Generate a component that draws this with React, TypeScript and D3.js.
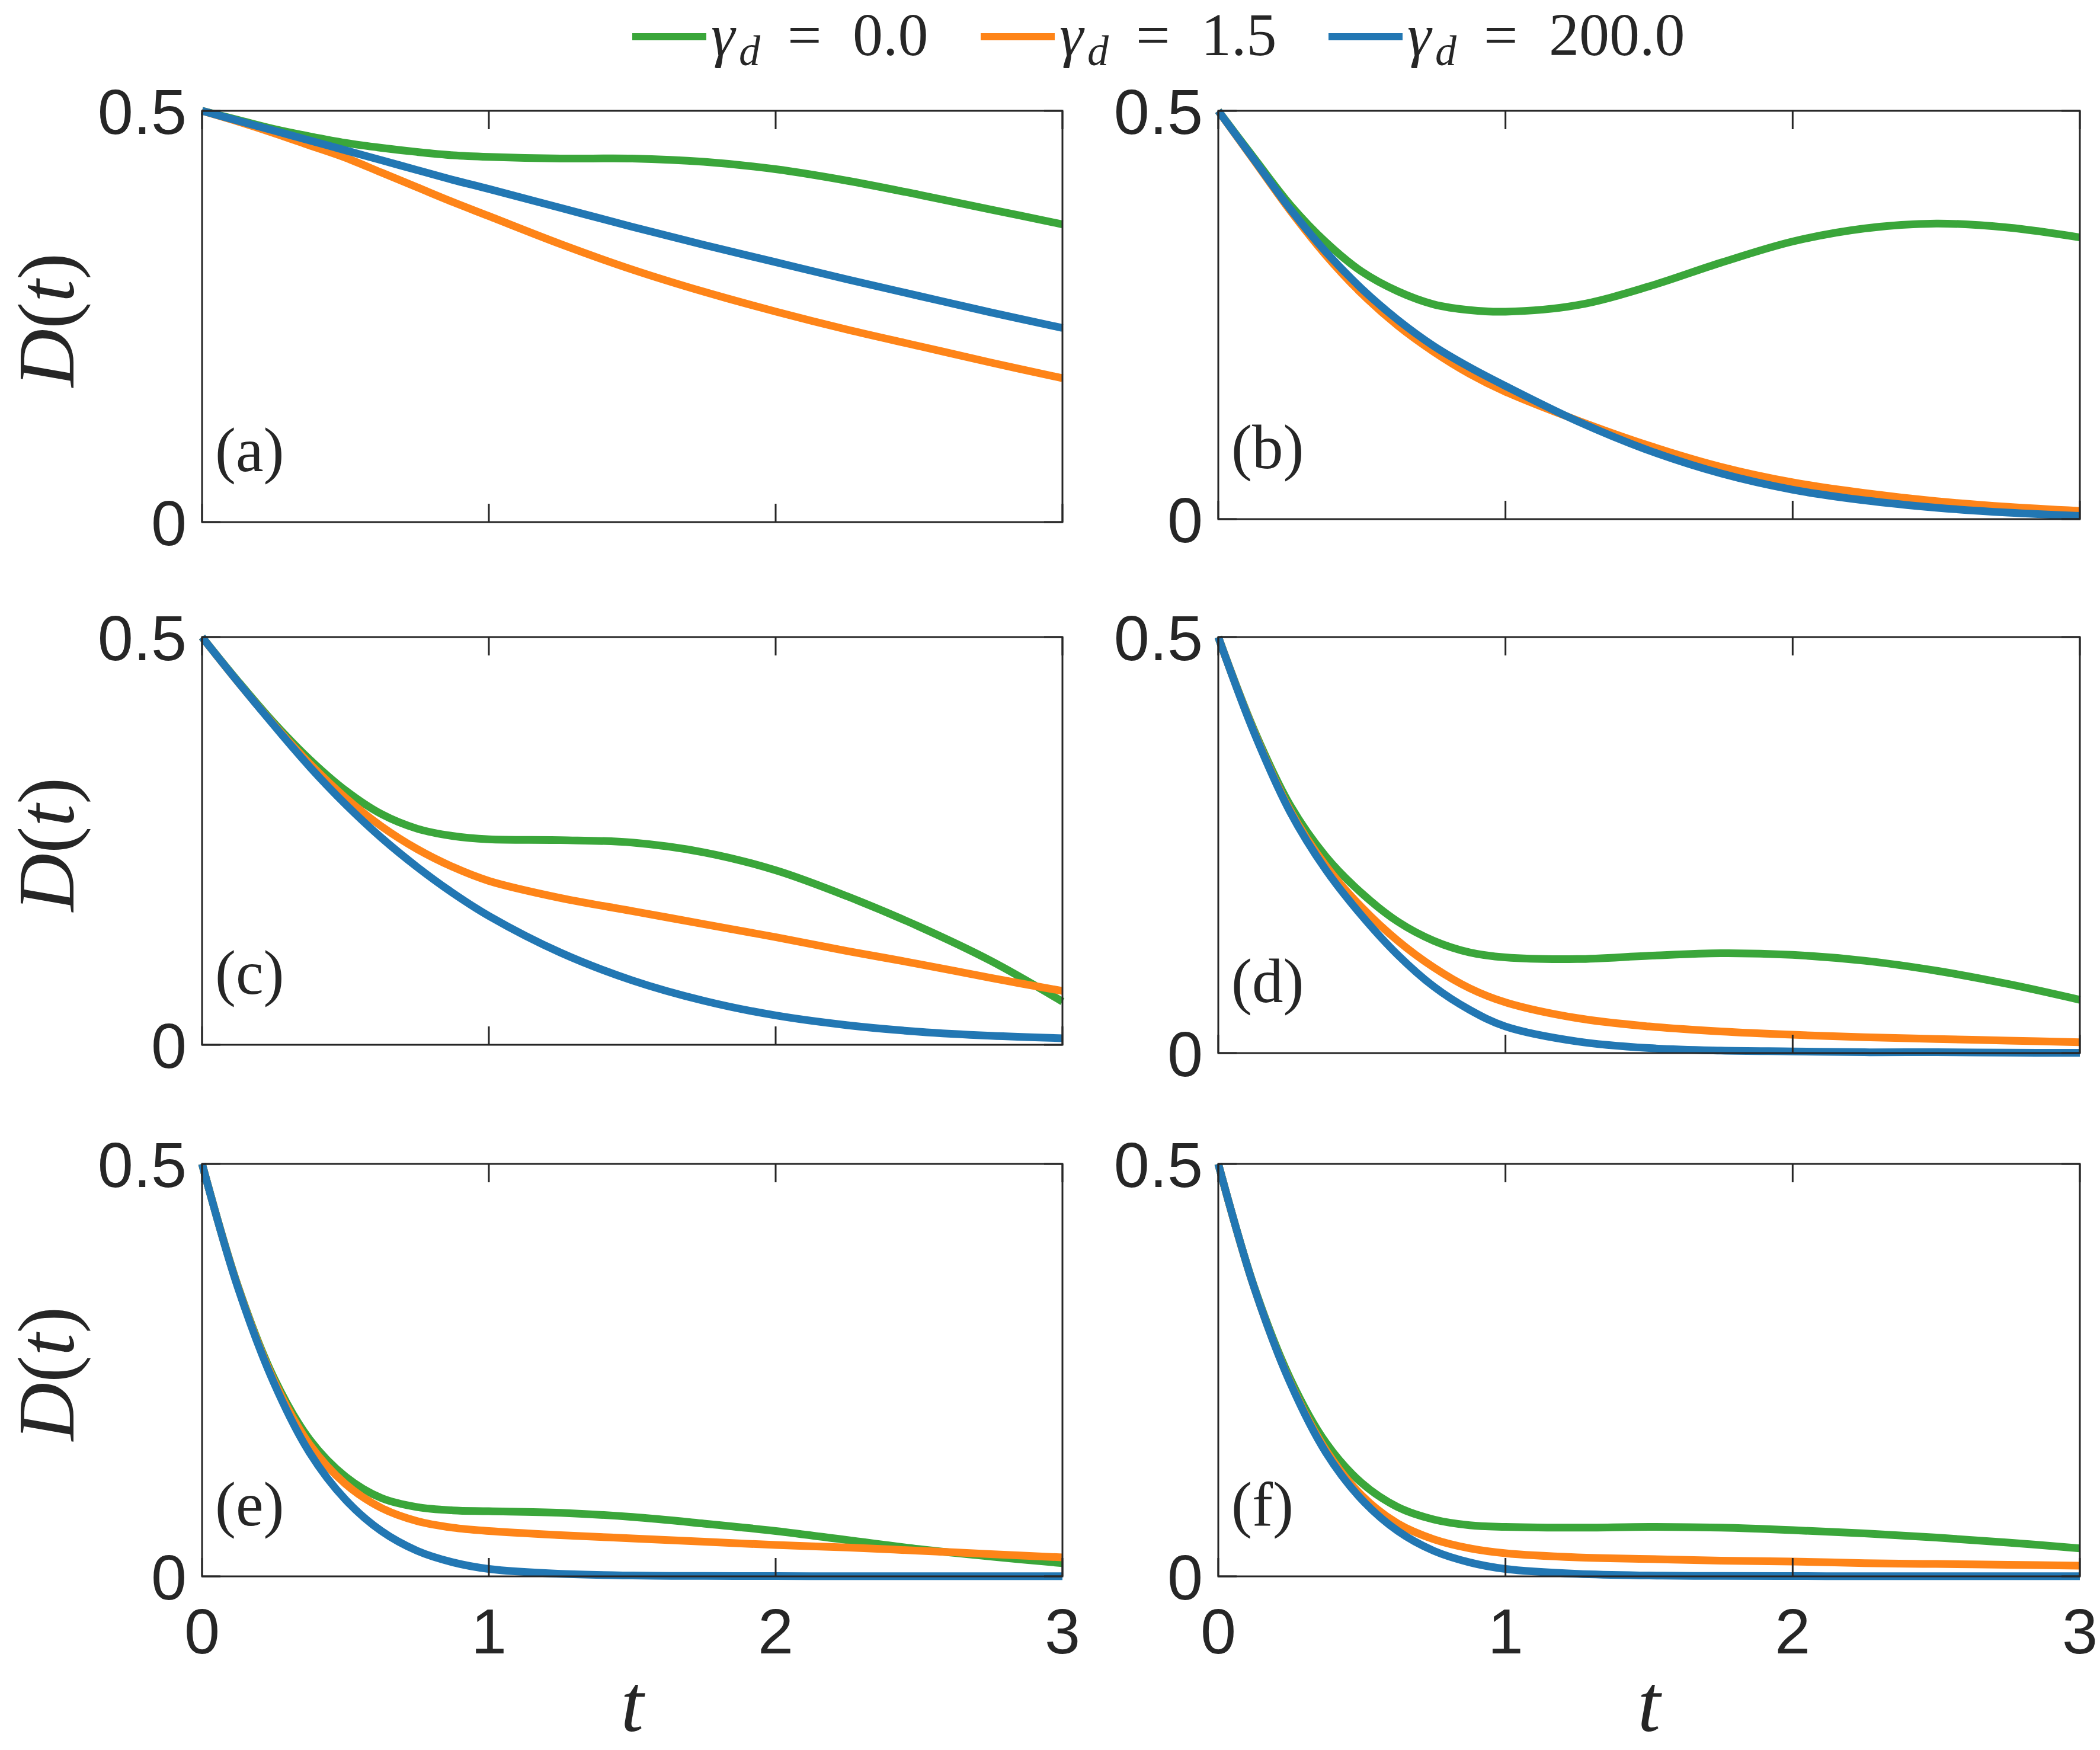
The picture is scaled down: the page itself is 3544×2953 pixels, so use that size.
import React from "react";
import * as d3 from "d3";

// Sampling times shared by every curve
const times = [0, 0.125, 0.25, 0.375, 0.5, 0.625, 0.75, 0.875, 1, 1.25, 1.5, 1.75, 2, 2.25, 2.5, 2.75, 3];

// Dephasing rates shown in the legend
const gammaLabels = ["0.0", "1.5", "200.0"];
const seriesColors = ["#3aa63a", "#fe8418", "#2277b3"];
const panelLabels = ["(a)", "(b)", "(c)", "(d)", "(e)", "(f)"];
const xTicks = [0, 1, 2, 3];
const yTicks = [0, 0.5];

// D(t) for each panel: gamma_d = 0.0, 1.5, 200.0
const a_g0 = [0.5, 0.489, 0.478, 0.469, 0.461, 0.455, 0.45, 0.446, 0.444, 0.442, 0.442, 0.438, 0.429, 0.415, 0.398, 0.38, 0.362];
const a_g15 = [0.5, 0.487, 0.473, 0.458, 0.443, 0.425, 0.407, 0.389, 0.372, 0.338, 0.307, 0.28, 0.256, 0.234, 0.214, 0.194, 0.175];
const a_g200 = [0.5, 0.488, 0.476, 0.464, 0.452, 0.44, 0.428, 0.416, 0.405, 0.382, 0.359, 0.337, 0.316, 0.295, 0.275, 0.255, 0.236];

const b_g0 = [0.5, 0.442, 0.385, 0.339, 0.303, 0.279, 0.263, 0.256, 0.254, 0.262, 0.285, 0.314, 0.34, 0.356, 0.362, 0.357, 0.345];
const b_g15 = [0.5, 0.439, 0.378, 0.323, 0.276, 0.237, 0.205, 0.178, 0.156, 0.121, 0.09, 0.064, 0.045, 0.032, 0.022, 0.015, 0.01];
const b_g200 = [0.5, 0.44, 0.38, 0.327, 0.282, 0.244, 0.212, 0.186, 0.163, 0.12, 0.084, 0.056, 0.036, 0.023, 0.014, 0.008, 0.004];

const c_g0 = [0.5, 0.446, 0.395, 0.35, 0.312, 0.283, 0.265, 0.256, 0.252, 0.251, 0.248, 0.236, 0.214, 0.182, 0.145, 0.103, 0.053];
const c_g15 = [0.5, 0.445, 0.393, 0.345, 0.303, 0.268, 0.24, 0.218, 0.201, 0.18, 0.164, 0.148, 0.132, 0.115, 0.099, 0.082, 0.066];
const c_g200 = [0.5, 0.445, 0.392, 0.341, 0.295, 0.254, 0.218, 0.186, 0.158, 0.113, 0.079, 0.054, 0.036, 0.024, 0.016, 0.011, 0.008];

const d_g0 = [0.5, 0.388, 0.298, 0.236, 0.192, 0.158, 0.135, 0.121, 0.115, 0.113, 0.117, 0.12, 0.118, 0.111, 0.099, 0.083, 0.064];
const d_g15 = [0.5, 0.386, 0.292, 0.225, 0.175, 0.135, 0.103, 0.078, 0.061, 0.042, 0.032, 0.026, 0.022, 0.019, 0.017, 0.015, 0.013];
const d_g200 = [0.5, 0.385, 0.29, 0.22, 0.165, 0.118, 0.08, 0.052, 0.032, 0.014, 0.006, 0.003, 0.002, 0.001, 0.001, 0.0005, 0.0003];

const e_g0 = [0.5, 0.352, 0.241, 0.166, 0.121, 0.095, 0.084, 0.08, 0.079, 0.077, 0.072, 0.064, 0.055, 0.044, 0.033, 0.024, 0.016];
const e_g15 = [0.5, 0.351, 0.238, 0.16, 0.112, 0.083, 0.067, 0.059, 0.055, 0.05, 0.046, 0.042, 0.038, 0.035, 0.031, 0.027, 0.023];
const e_g200 = [0.5, 0.35, 0.235, 0.15, 0.093, 0.055, 0.031, 0.017, 0.009, 0.003, 0.001, 0.0005, 0.0003, 0.0002, 0.0001, 0.0001, 0.0001];

const f_g0 = [0.5, 0.351, 0.24, 0.162, 0.113, 0.084, 0.069, 0.062, 0.06, 0.059, 0.06, 0.059, 0.056, 0.052, 0.047, 0.041, 0.034];
const f_g15 = [0.5, 0.35, 0.236, 0.153, 0.098, 0.064, 0.045, 0.034, 0.028, 0.023, 0.021, 0.019, 0.018, 0.016, 0.015, 0.014, 0.013];
const f_g200 = [0.5, 0.35, 0.235, 0.15, 0.093, 0.055, 0.031, 0.017, 0.009, 0.003, 0.001, 0.0005, 0.0003, 0.0002, 0.0001, 0.0001, 0.0001];

const panelSeries = [
  [a_g0, a_g15, a_g200],
  [b_g0, b_g15, b_g200],
  [c_g0, c_g15, c_g200],
  [d_g0, d_g15, d_g200],
  [e_g0, e_g15, e_g200],
  [f_g0, f_g15, f_g200],
];

// Plot-area frames (pixels)
const frames = [
  { x0: 341, x1: 1793, y0: 187, y1: 881 },
  { x0: 2056, x1: 3510, y0: 187, y1: 876 },
  { x0: 341, x1: 1793, y0: 1075, y1: 1763 },
  { x0: 2056, x1: 3510, y0: 1075, y1: 1777 },
  { x0: 341, x1: 1793, y0: 1964, y1: 2660 },
  { x0: 2056, x1: 3510, y0: 1964, y1: 2660 },
];

const AXIS = "#262626";
const SANS = "'Liberation Sans', Arial, Helvetica, sans-serif";
const SERIF = "'Liberation Serif', 'Times New Roman', serif";
const TICK_LEN = 31;
const TICK_FONT = 108;

function Panel({ idx }: { idx: number }) {
  const f = frames[idx];
  const x = d3.scaleLinear().domain([0, 3]).range([f.x0, f.x1]);
  const y = d3.scaleLinear().domain([0, 0.5]).range([f.y1, f.y0]);
  const line = d3
    .line<number>()
    .x((_, i) => x(times[i]))
    .y((v) => y(v))
    .curve(d3.curveCatmullRom.alpha(0.5));
  const showX = idx >= 4;
  return (
    <g>
      {panelSeries[idx].map((vals, s) => (
        <path
          key={s}
          d={line(vals) || ""}
          fill="none"
          stroke={seriesColors[s]}
          strokeWidth={13}
          strokeLinejoin="round"
        />
      ))}
      <rect x={f.x0} y={f.y0} width={f.x1 - f.x0} height={f.y1 - f.y0} fill="none" stroke={AXIS} strokeWidth={3} />
      {xTicks.map((t) => (
        <g key={"xt" + t}>
          <line x1={x(t)} x2={x(t)} y1={f.y1} y2={f.y1 - TICK_LEN} stroke={AXIS} strokeWidth={3} />
          <line x1={x(t)} x2={x(t)} y1={f.y0} y2={f.y0 + TICK_LEN} stroke={AXIS} strokeWidth={3} />
          {showX && (
            <text x={x(t)} y={f.y1 + 130} textAnchor="middle" fontFamily={SANS} fontSize={TICK_FONT} fill={AXIS}>
              {t}
            </text>
          )}
        </g>
      ))}
      {yTicks.map((v) => (
        <g key={"yt" + v}>
          <line x1={f.x0} x2={f.x0 + TICK_LEN} y1={y(v)} y2={y(v)} stroke={AXIS} strokeWidth={3} />
          <line x1={f.x1} x2={f.x1 - TICK_LEN} y1={y(v)} y2={y(v)} stroke={AXIS} strokeWidth={3} />
          <text x={f.x0 - 26} y={y(v) + 39} textAnchor="end" fontFamily={SANS} fontSize={TICK_FONT} fill={AXIS}>
            {v}
          </text>
        </g>
      ))}
      <text x={f.x0 + 22} y={f.y1 - 86} fontFamily={SERIF} fontSize={105} fill={AXIS}>
        {panelLabels[idx]}
      </text>
    </g>
  );
}

function Legend() {
  const starts = [1067, 1655, 2242];
  const lineY = 62;
  const base = 93;
  return (
    <g>
      {gammaLabels.map((g, i) => {
        const s = starts[i];
        return (
          <g key={g}>
            <line x1={s} x2={s + 125} y1={lineY} y2={lineY} stroke={seriesColors[i]} strokeWidth={12} />
            <text x={s + 133} y={base} fontFamily={SERIF} fontStyle="italic" fontSize={102} fill={AXIS}>
              γ
            </text>
            <text x={s + 180} y={base + 17} fontFamily={SERIF} fontStyle="italic" fontSize={72} fill={AXIS}>
              d
            </text>
            <text x={s + 262} y={base} fontFamily={SERIF} fontSize={102} fill={AXIS}>
              =
            </text>
            <text x={s + 372} y={base} fontFamily={SERIF} fontSize={102} fill={AXIS}>
              {g}
            </text>
          </g>
        );
      })}
    </g>
  );
}

export default function App() {
  const rowCenters = [0, 2, 4].map((i) => (frames[i].y0 + frames[i].y1) / 2);
  const colCenters = [4, 5].map((i) => (frames[i].x0 + frames[i].x1) / 2);
  return (
    <svg
      width={3544}
      height={2953}
      viewBox="0 0 3544 2953"
      style={{ position: "absolute", left: 0, top: 0, display: "block", background: "#fff" }}
    >
      <rect x={0} y={0} width={3544} height={2953} fill="#fff" />
      <Legend />
      {frames.map((_, i) => (
        <Panel key={i} idx={i} />
      ))}
      {rowCenters.map((cy, i) => (
        <text
          key={"yl" + i}
          transform={`translate(124, ${cy + 6}) rotate(-90)`}
          textAnchor="middle"
          fontFamily={SERIF}
          fontSize={136}
          fill={AXIS}
        >
          <tspan fontStyle="italic">D</tspan>(<tspan fontStyle="italic">t</tspan>)
        </text>
      ))}
      {colCenters.map((cx, i) => (
        <text key={"xl" + i} x={cx} y={2921} textAnchor="middle" fontFamily={SERIF} fontStyle="italic" fontSize={138} fill={AXIS}>
          t
        </text>
      ))}
    </svg>
  );
}
